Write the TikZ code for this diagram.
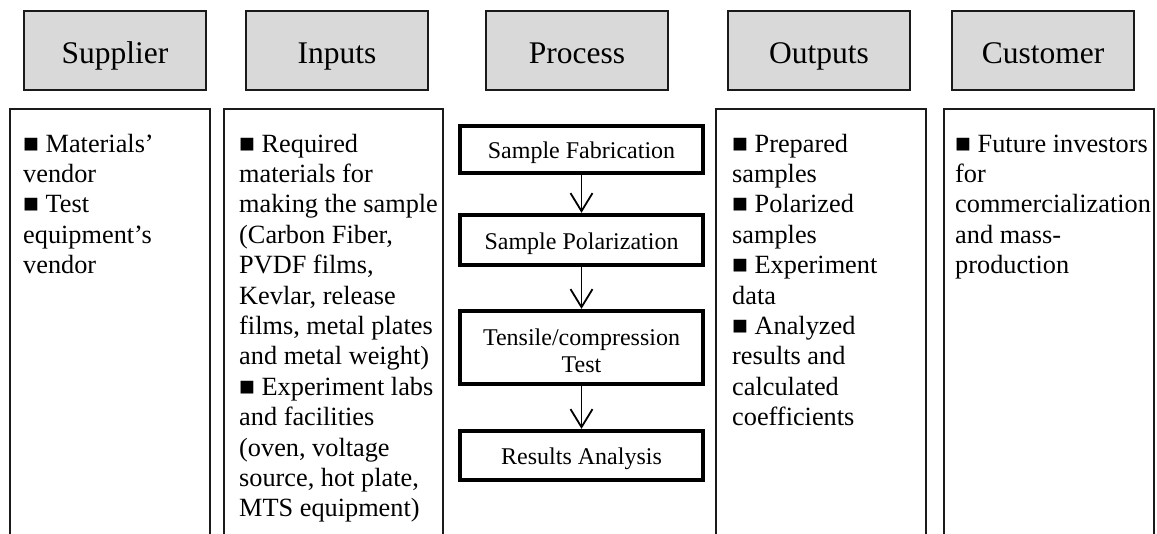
\documentclass[tikz,border=0pt]{standalone}
\usepackage{fontspec}
\setmainfont{Liberation Serif}
\usetikzlibrary{arrows.meta}

\definecolor{headfill}{HTML}{D9D9D9}
\definecolor{inkline}{HTML}{1A1A1A}

% a column of text whose baseline is that of its first line
\newcommand{\coltop}[2]{\parbox[t]{#1}{\raggedright #2}}

\tikzset{
  headbox/.style={draw=inkline, line width=1.8pt, fill=headfill,
    minimum width=182pt, minimum height=79pt, inner sep=0pt,
    text height=25pt, text depth=0pt,
    font=\fontsize{31.5}{36}\selectfont},
  colframe/.style={draw=inkline, line width=1.5pt},
  coltext/.style={anchor=base west, inner sep=0pt,
    font=\fontsize{26.3}{30.4}\selectfont},
  stepbox/.style={draw=black, line width=3.8pt, fill=white,
    minimum width=243.5pt, inner sep=0pt,
    text height=18pt, text depth=0pt,
    font=\fontsize{24}{27}\selectfont},
  flow/.style={draw=black, line width=1.6pt,
    -{Straight Barb[length=18pt,width=22pt,line width=1.8pt]}}
}

\begin{document}
\begin{tikzpicture}[x=1pt,y=-1pt]
  \useasboundingbox (0,0) rectangle (1157,533);

  % column headings
  \node[headbox] (hsup)  at (115,50.5) {Supplier};
  \node[headbox] (hinp)  at (337,50.5) {Inputs};
  \node[headbox] (hproc) at (577,50.5) {Process};
  \node[headbox] (hout)  at (819,50.5) {Outputs};
  \node[headbox] (hcus)  at (1043,50.5) {Customer};

  % open column frames running off the bottom of the page
  \draw[colframe] (10,540) -- (10,109) -- (210,109) -- (210,540);
  \draw[colframe] (224,540) -- (224,109) -- (443,109) -- (443,540);
  \draw[colframe] (716,540) -- (716,109) -- (926,109) -- (926,540);
  \draw[colframe] (944,540) -- (944,109) -- (1154,109) -- (1154,540);

  % column contents
  \node[coltext] (tsup) at (23,152) {\coltop{185pt}{■ Materials’\\vendor\\■ Test\\equipment’s\\vendor}};
  \node[coltext] (tinp) at (239,152) {\coltop{205pt}{■ Required\\materials for\\making the sample\\(Carbon Fiber,\\PVDF films,\\Kevlar, release\\films, metal plates\\and metal weight)\\■ Experiment labs\\and facilities\\(oven, voltage\\source, hot plate,\\MTS equipment)}};
  \node[coltext] (tout) at (732,152) {\coltop{190pt}{■ Prepared\\samples\\■ Polarized\\samples\\■ Experiment\\data\\■ Analyzed\\results and\\calculated\\coefficients}};
  \node[coltext] (tcus) at (955,152) {\coltop{200pt}{■ Future investors\\for\\commercialization\\and mass-\\production}};

  % process steps
  \node[stepbox, minimum height=47.5pt] (fab) at (581.5,149.5) {Sample Fabrication};
  \node[stepbox, minimum height=50.5pt] (pol) at (581.5,240) {Sample Polarization};
  \node[stepbox, minimum height=73.5pt, align=center, text height=50pt, text depth=0pt] (ten) at (581.5,347.5) {Tensile/compression\\Test};
  \node[stepbox, minimum height=49.5pt] (res) at (581.5,455.5) {Results Analysis};

  \draw[flow] (fab.south) -- (pol.north);
  \draw[flow] (pol.south) -- (ten.north);
  \draw[flow] (ten.south) -- (res.north);
\end{tikzpicture}
\end{document}
